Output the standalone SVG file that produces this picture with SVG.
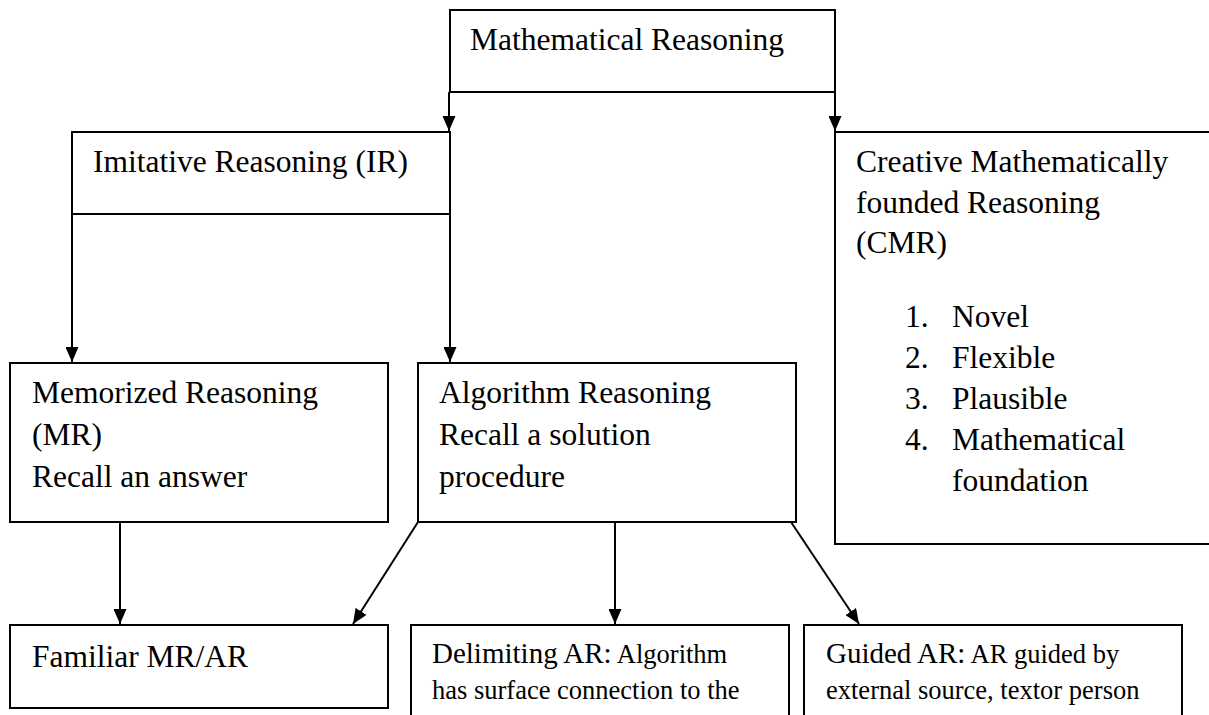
<svg xmlns="http://www.w3.org/2000/svg" width="1209" height="715" viewBox="0 0 1209 715">
<style>
.box{fill:#fff;stroke:#000;stroke-width:2}
.t{font-family:"Liberation Serif","Times New Roman",serif;font-size:31.5px;fill:#000}
.s{font-size:26.5px}
.m{font-size:29px}
.c{stroke:#000;stroke-width:2;fill:none;marker-end:url(#ah)}
</style>
<defs>
<marker id="ah" viewBox="0 0 15 13" refX="15" refY="6.5" markerWidth="15" markerHeight="13" markerUnits="userSpaceOnUse" orient="auto">
<path d="M0,0 L15,6.5 L0,13 z" fill="#000"/>
</marker>
</defs>
<rect width="1209" height="715" fill="#fff"/>
<g id="mr-top">
<rect class="box" x="450" y="10" width="385" height="82"/>
<text class="t" x="470" y="50">Mathematical Reasoning</text>
</g>
<g id="ir">
<rect class="box" x="72" y="132" width="378" height="82"/>
<text class="t" x="93" y="172">Imitative Reasoning (IR)</text>
</g>
<g id="cmr">
<rect class="box" x="835" y="132" width="390" height="412"/>
<text class="t" x="856" y="172">Creative Mathematically</text>
<text class="t" x="856" y="213">founded Reasoning</text>
<text class="t" x="856" y="253">(CMR)</text>
<text class="t" x="905" y="327">1.</text><text class="t" x="952" y="327">Novel</text>
<text class="t" x="905" y="368">2.</text><text class="t" x="952" y="368">Flexible</text>
<text class="t" x="905" y="409">3.</text><text class="t" x="952" y="409">Plausible</text>
<text class="t" x="905" y="450">4.</text><text class="t" x="952" y="450">Mathematical</text>
<text class="t" x="952" y="491">foundation</text>
</g>
<g id="memorized">
<rect class="box" x="10" y="363" width="378" height="159"/>
<text class="t" x="32" y="403">Memorized Reasoning</text>
<text class="t" x="32" y="445">(MR)</text>
<text class="t" x="32" y="487">Recall an answer</text>
</g>
<g id="algorithm">
<rect class="box" x="418" y="363" width="378" height="159"/>
<text class="t" x="439" y="403">Algorithm Reasoning</text>
<text class="t" x="439" y="445">Recall a solution</text>
<text class="t" x="439" y="487">procedure</text>
</g>
<g id="familiar">
<rect class="box" x="10" y="625" width="378" height="83"/>
<text class="t" x="32" y="667">Familiar MR/AR</text>
</g>
<g id="delimiting">
<rect class="box" x="411" y="625" width="378" height="100"/>
<text class="t" x="432" y="663"><tspan class="m">Delimiting AR</tspan><tspan class="m">:</tspan><tspan class="s"> Algorithm</tspan></text>
<text class="t s" x="432" y="699">has surface connection to the</text>
</g>
<g id="guided">
<rect class="box" x="804" y="625" width="378" height="100"/>
<text class="t" x="826" y="663"><tspan class="m">Guided AR:</tspan><tspan class="s"> AR guided by</tspan></text>
<text class="t s" x="826" y="699">external source, textor person</text>
</g>
<g id="connectors">
<path class="c" d="M450,92 L449,93 L449,131"/>
<path class="c" d="M835,92 L835,131"/>
<path class="c" d="M72,214 L72,362"/>
<path class="c" d="M450,214 L450,362"/>
<path class="c" d="M120,522 L120,624"/>
<path class="c" d="M418,522 L353,624"/>
<path class="c" d="M615,522 L615,624"/>
<path class="c" d="M791,522 L859,624"/>
</g>
</svg>
